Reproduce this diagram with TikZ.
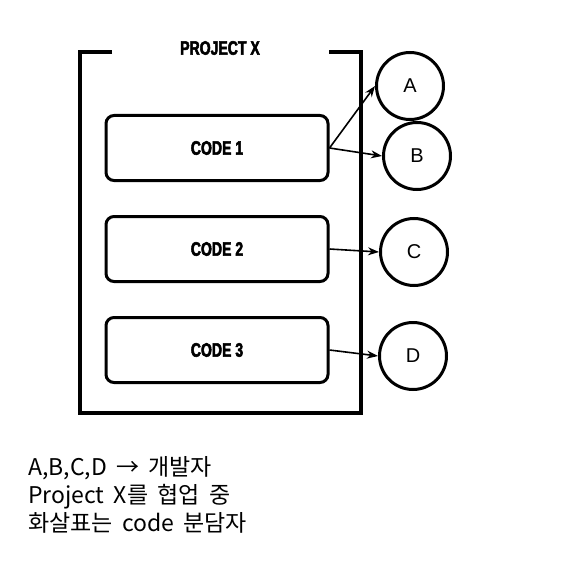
\documentclass[tikz,border=0pt]{standalone}
\usepackage{fontspec}
\setmainfont{Liberation Sans}
\newfontfamily\krfont[WordSpace=1.8]{Noto Sans CJK KR}
\newfontfamily\titlefont[FakeStretch=0.72,FakeBold=2.6]{Liberation Sans}
\usetikzlibrary{arrows.meta}

\tikzset{
    code box/.style={
        draw,line width=3pt,rounded corners=8pt,
        minimum width=222pt,minimum height=65pt,
        font=\titlefont\bfseries\fontsize{19.5}{20}\selectfont
    },
    dev circle/.style={
        draw,line width=3pt,circle,
        minimum size=67pt,inner sep=0pt,
        font=\fontsize{20}{22}\selectfont
    },
    dev arrow/.style={line width=1.6pt,-{Stealth[length=11pt,width=8pt]}},
    note line/.style={anchor=base west,inner sep=0pt,font=\krfont\fontsize{23}{28}\selectfont}
}

\begin{document}
\begin{tikzpicture}[x=1pt,y=-1pt]
        \useasboundingbox (0,0) rectangle (560,564);
        % project frame, open at the top for the title
        \draw[line width=3.8pt] (112,52) -- (80,52) -- (80,413) -- (361,413) -- (361,52) -- (329,52);
        \node[font=\titlefont\bfseries\fontsize{19.5}{20}\selectfont] (title) at (220,48) {PROJECT X};
        \foreach \i/\y in {1/148,2/249,3/350}
            \node[code box] (code\i) at (217,\y) {CODE \i};
        \foreach \name/\x/\y in {A/410/86,B/417/156,C/414/252,D/413/356}
            \node[dev circle] (dev\name) at (\x,\y) {\name};
        \draw[dev arrow] (code1.east) -- (devA.west);
        \draw[dev arrow] (code1.east) -- (devB.west);
        \draw[dev arrow] (code2.east) -- (devC.west);
        \draw[dev arrow] (code3.east) -- (devD.west);
        % notes
        \node[note line] (note1) at (28,475) {A,B,C,D → 개발자};
        \node[note line] (note2) at (28,503) {Project X를 협업 중};
        \node[note line] (note3) at (28,531) {화살표는 code 분담자};
    \end{tikzpicture}
\end{document}
